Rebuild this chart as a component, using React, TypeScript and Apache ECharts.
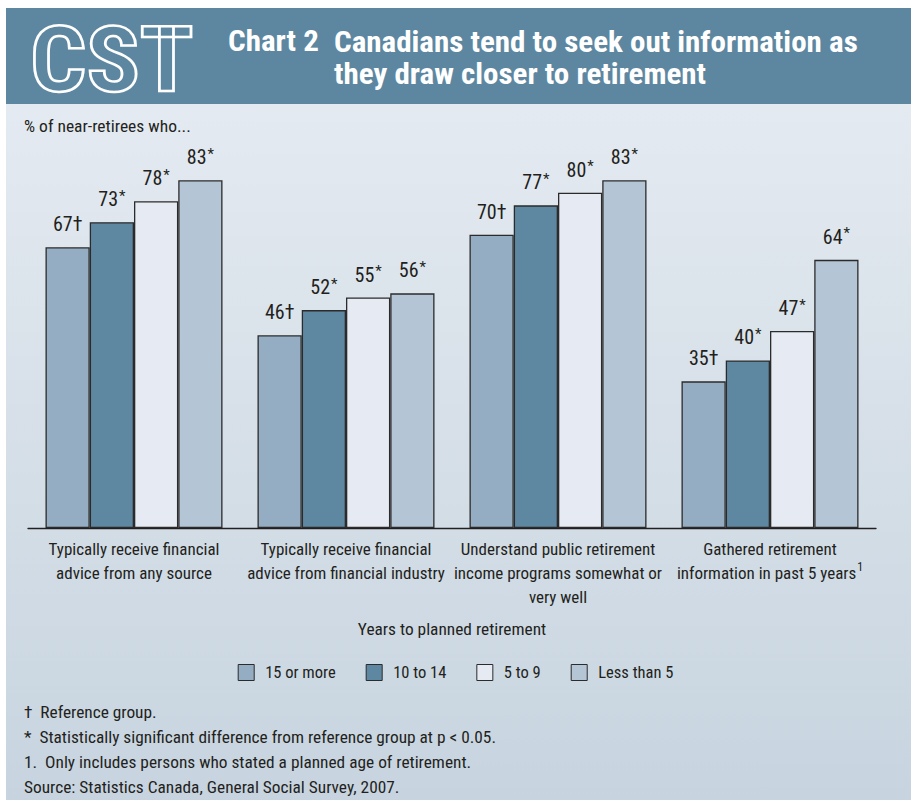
import React, { useEffect, useRef } from "react";
import * as echarts from "echarts";

const categories = [
  "Typically receive financial\nadvice from any source",
  "Typically receive financial\nadvice from financial industry",
  "Understand public retirement\nincome programs somewhat or\nvery well",
  "Gathered retirement\ninformation in past 5 years{sup|1}",
];
const seriesNames = ["15 or more", "10 to 14", "5 to 9", "Less than 5"];
const values15Plus = [67, 46, 70, 35];
const values10to14 = [73, 52, 77, 40];
const values5to9 = [78, 55, 80, 47];
const valuesUnder5 = [83, 56, 83, 64];
const marks15Plus = ["†", "†", "†", "†"];
const marks10to14 = ["*", "*", "*", "*"];
const marks5to9 = ["*", "*", "*", "*"];
const marksUnder5 = ["*", "*", "*", "*"];
const footnotes = [
  "†  Reference group.",
  "*  Statistically significant difference from reference group at p < 0.05.",
  "1.  Only includes persons who stated a planned age of retirement.",
  "Source: Statistics Canada, General Social Survey, 2007.",
];

const FONT = "'Roboto Condensed', 'Arial Narrow', Lato, sans-serif";
const colors = ["#94adc2", "#5e87a1", "#e6ebf3", "#b4c5d5"];
const INK = "#231f20";

export default function App() {
  const ref = useRef<HTMLDivElement>(null);
  useEffect(() => {
    document.body.style.margin = "0";
    const chart = echarts.init(ref.current!, undefined, { renderer: "svg" });
    const allValues = [values15Plus, values10to14, values5to9, valuesUnder5];
    const allMarks = [marks15Plus, marks10to14, marks5to9, marksUnder5];
    const series = seriesNames.map((name, i) => ({
      name,
      type: "bar",
      data: allValues[i],
      barGap: "0%",
      barCategoryGap: "16.5%",
      itemStyle: { color: colors[i], borderColor: "#2b2b2b", borderWidth: 1.3 },
      label: {
        show: true,
        position: "top",
        distance: 12,
        fontFamily: FONT,
        fontSize: 20,
        color: INK,
        formatter: (p: any) => {
          const m = allMarks[i][p.dataIndex];
          return m === "*" ? `{n|${p.value}}{s|*}` : `{n|${p.value}}{n|${m}}`;
        },
        rich: {
          n: { fontFamily: FONT, fontSize: 20, color: INK, lineHeight: 22 },
          s: { fontFamily: FONT, fontSize: 15, color: INK, verticalAlign: "top", lineHeight: 22, padding: [0, 0, 4, 1] },
        },
      },
    }));

    const footGraphics = footnotes.map((t, i) => ({
      type: "text",
      x: 24,
      y: 704 + i * 25,
      scaleX: 1.02,
      style: { text: t, font: `17px ${FONT}`, fill: INK },
    }));

    chart.setOption({
      animation: false,
      backgroundColor: "#ffffff",
      textStyle: { fontFamily: FONT },
      grid: { left: 28, right: 35, top: 109, height: 419, containLabel: false },
      xAxis: {
        type: "category",
        data: categories,
        axisLine: { lineStyle: { color: INK, width: 1.3 } },
        axisTick: { show: false },
        axisLabel: {
          interval: 0,
          fontFamily: FONT,
          fontSize: 17,
          lineHeight: 24,
          color: INK,
          margin: 9,
          rich: {
            sup: { fontSize: 12, verticalAlign: "top", lineHeight: 24, padding: [0, 0, 10, 1], fontFamily: FONT, color: INK },
          },
        },
      },
      yAxis: {
        type: "value",
        min: 0,
        max: 100,
        show: false,
      },
      legend: {
        data: seriesNames,
        top: 659,
        left: "center",
        itemWidth: 16,
        itemHeight: 16,
        itemGap: 30,
        icon: "rect",
        textStyle: { fontFamily: FONT, fontSize: 16.5, color: INK, padding: [0, 0, 0, 6] },
        itemStyle: { borderColor: "#2b2b2b", borderWidth: 1 },
      },
      graphic: [
        {
          type: "rect",
          z: -10,
          silent: true,
          shape: { x: 6, y: 8, width: 905, height: 792 },
          style: {
            fill: new echarts.graphic.LinearGradient(0, 0, 0, 1, [
              { offset: 0, color: "#e8edf3" },
              { offset: 1, color: "#c7d4df" },
            ]),
          },
        },
        {
          type: "rect",
          z: -9,
          silent: true,
          shape: { x: 6, y: 8, width: 905, height: 96 },
          style: { fill: "#5d87a0" },
        },
        {
          type: "text",
          x: 30,
          y: 15,
          scaleX: 1.1,
          style: {
            text: "CST",
            font: `bold 90px ${FONT}`,
            fill: "rgba(0,0,0,0)",
            stroke: "#ffffff",
            lineWidth: 2.5,
          },
        },
        {
          type: "text",
          x: 228,
          y: 26,
          scaleX: 1.07,
          style: { text: "Chart 2", font: `bold 29px ${FONT}`, fill: "#ffffff" },
        },
        {
          type: "text",
          x: 334,
          y: 26,
          scaleX: 1.07,
          style: {
            text: "Canadians tend to seek out information as\nthey draw closer to retirement",
            font: `bold 29px ${FONT}`,
            lineHeight: 32,
            fill: "#ffffff",
          },
        },
        {
          type: "text",
          x: 24,
          y: 118,
          scaleX: 1.03,
          style: { text: "% of near-retirees who...", font: `17px ${FONT}`, fill: INK },
        },
        {
          type: "text",
          x: 452,
          y: 621,
          scaleX: 1.02,
          style: { text: "Years to planned retirement", font: `17px ${FONT}`, fill: INK, align: "center" },
        },
        ...footGraphics,
      ],
      series,
    });
    return () => chart.dispose();
  }, []);
  return <div ref={ref} style={{ width: 911, height: 803 }} />;
}
